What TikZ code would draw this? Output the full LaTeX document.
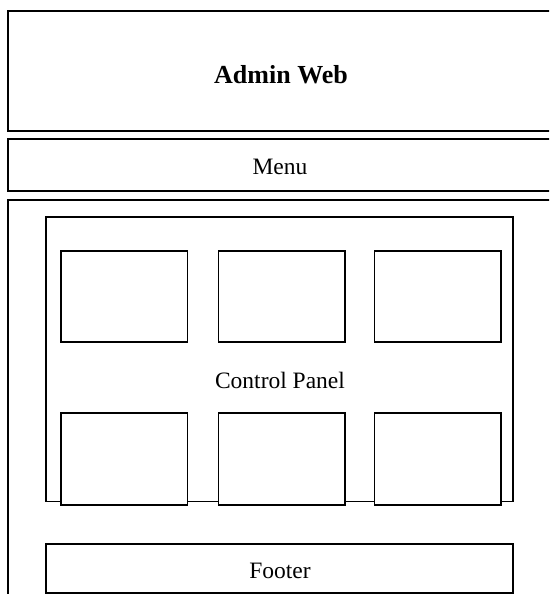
\documentclass[tikz,border=0pt]{standalone}
\usepackage{fontspec}
\setmainfont{Liberation Serif}
\tikzset{
  frame/.style={draw=black, line width=1.5pt, fill=white, inner sep=0pt, outer sep=0pt},
  caption/.style={anchor=base, inner sep=0pt, font=\fontsize{23.5}{28}\selectfont},
  title/.style={caption, font=\fontsize{26}{31}\selectfont\bfseries},
}
\begin{document}
\begin{tikzpicture}[x=1pt, y=-1pt]
  \useasboundingbox (0,0) rectangle (549,594);
  \clip (0,0) rectangle (549,594);
  % page sections (they run past the right and bottom edges)
  \node[frame, minimum width=552pt, minimum height=120pt] (header) at (284,71) {};
  \node[frame, minimum width=552pt, minimum height=52pt] (menu) at (284,165) {};
  \node[frame, minimum width=552pt, minimum height=410pt] (content) at (284,405) {};
  % control panel with its two rows of tiles
  \node[frame, minimum width=467pt, minimum height=284.5pt] (panel) at (279.5,359.25) {};
  \foreach \cx/\n in {124/a, 281.5/b, 437.75/c} {
    \node[frame, minimum width=126.5pt, minimum height=91pt] (top\n) at (\cx,296.5) {};
    \node[frame, minimum width=126.5pt, minimum height=92pt] (bot\n) at (\cx,459) {};
  }
  \node[frame, minimum width=467pt, minimum height=49pt] (footer) at (279.5,568.5) {};
  % labels
  \node[title] (headertext) at (281,84) {Admin Web};
  \node[caption] (menutext) at (280,174) {Menu};
  \node[caption] (paneltext) at (280,388) {Control Panel};
  \node[caption] (footertext) at (280,578) {Footer};
\end{tikzpicture}
\end{document}
